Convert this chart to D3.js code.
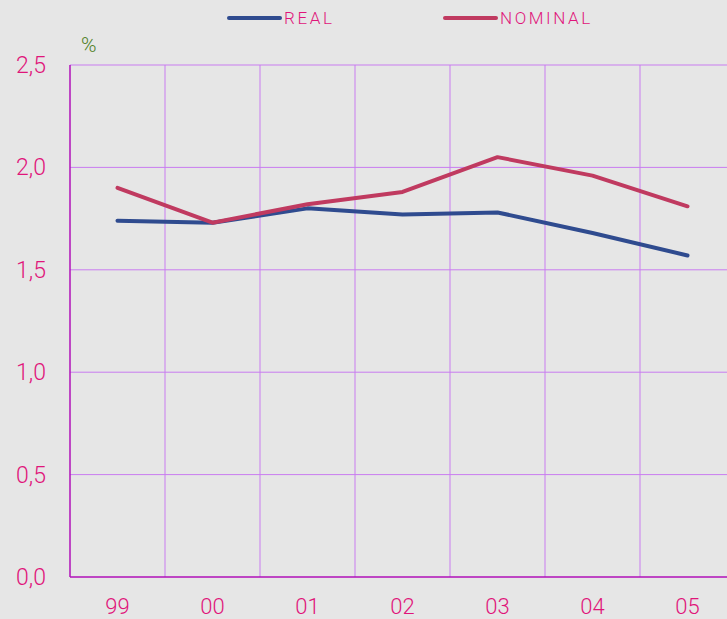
<!DOCTYPE html>
<html>
<head>
<meta charset="utf-8">
<script src="https://cdn.jsdelivr.net/npm/d3@7"></script>
<style>
  body { margin: 0; background: #e6e6e6; }
  svg { display: block; font-family: Roboto, "Liberation Sans", Arial, sans-serif; font-weight: 300; }
</style>
</head>
<body>
<div id="chart"></div>
<script>
var years = ["99", "00", "01", "02", "03", "04", "05"];
var real = [1.74, 1.73, 1.80, 1.77, 1.78, 1.68, 1.57];
var nominal = [1.90, 1.73, 1.82, 1.88, 2.05, 1.96, 1.81];
var yTicks = [0, 0.5, 1.0, 1.5, 2.0, 2.5];

var W = 727, H = 619;
var margin = { left: 70, top: 65, right: -8, bottom: 42 };

var svg = d3.select("#chart").append("svg")
    .attr("width", W)
    .attr("height", H);

svg.append("rect").attr("width", W).attr("height", H).attr("fill", "#e6e6e6");

var x = d3.scaleBand()
    .domain(years)
    .range([margin.left, margin.left + 95 * years.length]);

var y = d3.scaleLinear()
    .domain([0, 2.5])
    .range([H - margin.bottom, margin.top]);

var fmt = function(d) { return d3.format(".1f")(d).replace(".", ","); };

// grid
svg.append("g").selectAll("line.h")
  .data(yTicks.slice(1))
  .enter().append("line")
  .attr("x1", margin.left).attr("x2", W)
  .attr("y1", function(d) { return y(d); })
  .attr("y2", function(d) { return y(d); })
  .attr("stroke", "#c97cf0").attr("stroke-width", 1);

svg.append("g").selectAll("line.v")
  .data(years.slice(1))
  .enter().append("line")
  .attr("x1", function(d) { return x(d); })
  .attr("x2", function(d) { return x(d); })
  .attr("y1", y(0)).attr("y2", y(2.5))
  .attr("stroke", "#c97cf0").attr("stroke-width", 1);

// axes lines
svg.append("line")
  .attr("x1", margin.left).attr("x2", margin.left)
  .attr("y1", y(0)).attr("y2", y(2.5))
  .attr("stroke", "#b010b8").attr("stroke-width", 1.5);
svg.append("line")
  .attr("x1", margin.left).attr("x2", W)
  .attr("y1", y(0)).attr("y2", y(0))
  .attr("stroke", "#b010b8").attr("stroke-width", 1.5);

// tick labels
svg.append("g").selectAll("text")
  .data(yTicks)
  .enter().append("text")
  .attr("x", 46)
  .attr("y", function(d) { return y(d) + 8; })
  .attr("text-anchor", "end")
  .attr("fill", "#e0157a")
  .attr("font-size", 23)
  .text(fmt);

svg.append("g").selectAll("text")
  .data(years)
  .enter().append("text")
  .attr("x", function(d) { return x(d) + x.bandwidth() / 2; })
  .attr("y", 614)
  .attr("text-anchor", "middle")
  .attr("fill", "#e0157a")
  .attr("font-size", 22)
  .text(function(d) { return d; });

svg.append("text")
  .attr("x", 81).attr("y", 52)
  .attr("fill", "#4f7f1f")
  .attr("font-size", 21)
  .text("%");

// lines
var line = d3.line()
  .x(function(d, i) { return x(years[i]) + x.bandwidth() / 2; })
  .y(function(d) { return y(d); });

var series = [
  { name: "REAL", values: real, color: "#2f4b8f" },
  { name: "NOMINAL", values: nominal, color: "#c03a60" }
];

series.forEach(function(s) {
  svg.append("path")
    .attr("d", line(s.values))
    .attr("fill", "none")
    .attr("stroke", s.color)
    .attr("stroke-width", 4)
    .attr("stroke-linecap", "round")
    .attr("stroke-linejoin", "round");
});

// legend
var legendX = [229, 445];
series.forEach(function(s, i) {
  svg.append("line")
    .attr("x1", legendX[i]).attr("x2", legendX[i] + 51)
    .attr("y1", 18).attr("y2", 18)
    .attr("stroke", s.color).attr("stroke-width", 4)
    .attr("stroke-linecap", "round");
  svg.append("text")
    .attr("x", legendX[i] + 55).attr("y", 24)
    .attr("fill", "#e0157a")
    .attr("font-size", 17)
    .attr("letter-spacing", 2.6)
    .text(s.name);
});
</script>
</body>
</html>
